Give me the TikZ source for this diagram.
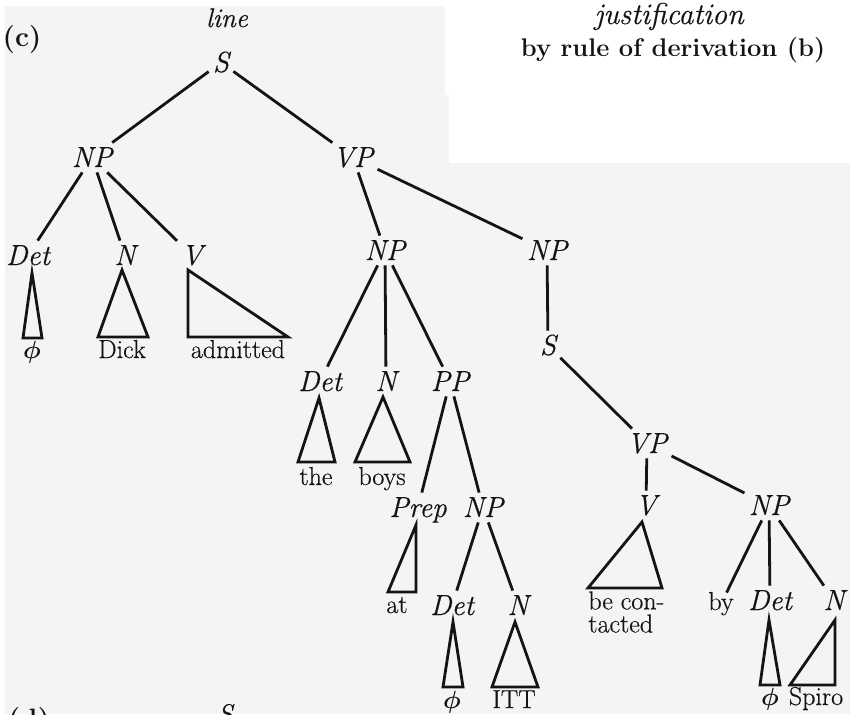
\documentclass[tikz,border=0pt]{standalone}
\usepackage{bm}
\usepackage{fontspec}
\setmainfont{Latin Modern Roman}[UprightFeatures={FakeBold=0.5}, ItalicFeatures={FakeBold=0.5}]
\definecolor{bgc}{RGB}{244,244,244}
\definecolor{ink}{RGB}{20,20,20}
\begin{document}
\begin{tikzpicture}[x=1pt,y=-1pt,
  line width=2.8pt, draw=ink, text=ink,
  lab/.style={font=\fontsize{29}{30}\selectfont\itshape, inner xsep=3pt, inner ysep=4pt, text height=19pt, text depth=0pt, anchor=base},
  leaf/.style={font=\fontsize{26}{23}\selectfont, inner sep=0pt, anchor=base},
  phileaf/.style={font=\fontsize{29}{30}\selectfont, inner sep=0pt, anchor=base},
  rleaf/.style={font=\fontsize{26}{23}\selectfont, inner xsep=3pt, inner ysep=4pt, text height=12pt, text depth=0pt, anchor=base},
  hbold/.style={font=\fontsize{25.5}{28}\selectfont\bfseries, inner sep=0pt, anchor=base},
  hital/.style={font=\fontsize{27}{30}\selectfont\itshape, inner sep=0pt, anchor=base},
  tri/.style={line width=2.8pt, line join=miter}
]
\useasboundingbox (0,0) rectangle (850,714);
\clip (0,0) rectangle (850,714);
\fill[bgc] (0,0) rectangle (850,714);
\fill[white] (0,0) rectangle (5,714);
\fill[white] (0,0) rectangle (445,6);
\fill[white] (445,0) -- (850,0) -- (850,163) -- (449,163) -- (449,95) -- (445,95) -- cycle;

% header
\node[hbold, font=\fontsize{28}{30}\selectfont\bfseries] (lc) at (22,47) {(c)};
\node[hital] (lline) at (227,27) {line};
\node[hital, font=\fontsize{30}{30}\selectfont\itshape] (just) at (669,24) {justification};
\node[hbold] (rule) at (673,57) {by rule of derivation (b)};
\node[hbold, font=\fontsize{28}{30}\selectfont\bfseries] (ld) at (29,728) {(d)};
\node[hital] (Sd) at (225,723) {S};

% tree labels
\node[lab] (S0) at (221,72) {S};
\node[lab] (NP1) at (92,167) {NP};
\node[lab] (VP1) at (353,167) {VP};
\node[lab] (Det1) at (28,265) {Det};
\node[lab] (N1) at (125,265) {N};
\node[lab] (V1) at (192,265) {V};
\node[lab] (NP2) at (385,260) {NP};
\node[lab] (NP3) at (547,260) {NP};
\node[lab] (S1) at (548,355) {S};
\node[lab] (Det2) at (320,391) {Det};
\node[lab] (N2) at (386,391) {N};
\node[lab] (PP) at (450,391) {PP};
\node[lab] (Prep) at (418,517) {Prep};
\node[lab] (NP4) at (483,517) {NP};
\node[lab] (Det3) at (452,615) {Det};
\node[lab] (N3) at (518,615) {N};
\node[lab] (VP2) at (647,453) {VP};
\node[lab] (V2) at (646,515) {V};
\node[lab] (NP5) at (769,515) {NP};
\node[rleaf] (by) at (721,610) {by};
\node[lab] (Det4) at (770,610) {Det};
\node[lab] (N4) at (834,610) {N};

% leaves
\node[phileaf] (phi1) at (32,358) {$\bm{\phi}$};
\node[leaf] (dick) at (122,358) {Dick};
\node[leaf] (adm) at (238,358) {admitted};
\node[leaf] (the) at (316,485) {the};
\node[leaf] (boys) at (382,485) {boys};
\node[leaf] (at) at (397,613) {at};
\node[phileaf] (phi2) at (452,708) {$\bm{\phi}$};
\node[leaf] (itt) at (514,708) {ITT};
\node[leaf, anchor=north west, align=left] (bec) at (587,590) {be con-\\tacted};
\node[phileaf] (phi3) at (770,705) {$\bm{\phi}$};
\node[leaf] (spiro) at (816,705) {Spiro};

% edges
\draw (S0) -- (NP1);
\draw (S0) -- (VP1);
\draw (NP1) -- (Det1);
\draw (NP1) -- (N1);
\draw (NP1) -- (V1);
\draw (VP1) -- (NP2);
\draw (VP1) -- (NP3);
\draw (NP2) -- (Det2);
\draw (NP2) -- (N2);
\draw (NP2) -- (PP);
\draw (PP) -- (Prep);
\draw (PP) -- (NP4);
\draw (NP4) -- (Det3);
\draw (NP4) -- (N3);
\draw (NP3) -- (S1);
\draw (S1) -- (VP2);
\draw (VP2) -- (V2);
\draw (VP2) -- (NP5);
\draw (NP5) -- (by);
\draw (NP5) -- (Det4);
\draw (NP5) -- (N4);

% triangles
\draw[tri] (32,273) -- (42,338) -- (23,338) -- cycle;
\draw[tri] (122,270) -- (148,337) -- (98,337) -- cycle;
\draw[tri] (188,270) -- (288,337) -- (188,337) -- cycle;
\draw[tri] (319,398) -- (335,462) -- (298,462) -- cycle;
\draw[tri] (383,397) -- (410,462) -- (355,462) -- cycle;
\draw[tri] (416,525) -- (416,592) -- (388,592) -- cycle;
\draw[tri] (453,622) -- (463,687) -- (443,687) -- cycle;
\draw[tri] (515,622) -- (538,687) -- (492,687) -- cycle;
\draw[tri] (642,522) -- (662,588) -- (588,588) -- cycle;
\draw[tri] (769,620) -- (780,685) -- (760,685) -- cycle;
\draw[tri] (835,620) -- (835,685) -- (790,685) -- cycle;
\end{tikzpicture}
\end{document}
